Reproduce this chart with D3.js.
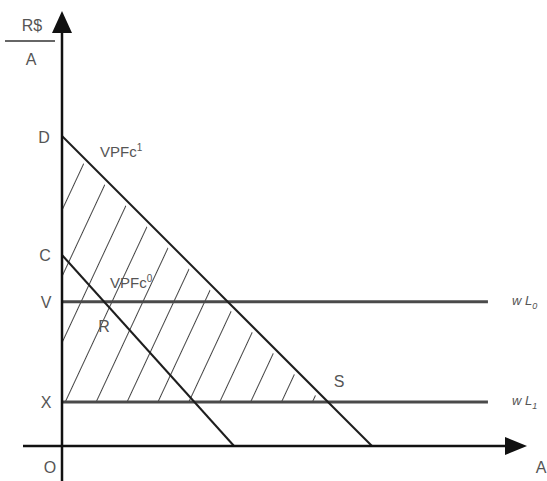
<!DOCTYPE html>
<html>
<head>
<meta charset="utf-8">
<script src="https://cdn.jsdelivr.net/npm/d3@7"></script>
<style>
  body { margin: 0; background: #fff; }
  svg { display: block; font-family: "Liberation Sans", Arial, sans-serif; }
</style>
</head>
<body>
<svg width="547" height="481"></svg>
<script>
// axis extents (units of the diagram)
const xDomain = [0, 150];
const yDomain = [0, 140];

// VPF curves: intercept on vertical axis (y0) and horizontal axis (x0)
const curveNames = ["VPFc1", "VPFc0"];
const curveY0 = [100, 61.6];
const curveX0 = [100, 55.5];

// wage levels
const levelNames = ["V", "X"];
const levelValues = [46.5, 14.2];
const levelLabels = ["0", "1"];
const levelEnd = 137.4;

const svg = d3.select("svg");

const x = d3.scaleLinear().domain(xDomain).range([62, 527]);
const y = d3.scaleLinear().domain(yDomain).range([446, 12]);

const ink = "#1e1e1e";
const textCol = "#555";

// hatch pattern
const defs = svg.append("defs");
const pat = defs.append("pattern")
  .attr("id", "hatch")
  .attr("patternUnits", "userSpaceOnUse")
  .attr("width", 28)
  .attr("height", 10)
  .attr("patternTransform", "translate(5,0) rotate(25)");
pat.append("line")
  .attr("x1", 0.5).attr("y1", 0)
  .attr("x2", 0.5).attr("y2", 10)
  .attr("stroke", "#444")
  .attr("stroke-width", 1);

// hatched area: between VPFc1 and lower wage level
const low = levelValues[1];
const topX = curveX0[0] * (1 - low / curveY0[0]);
svg.append("path")
  .attr("d", d3.line()([
    [x(0), y(curveY0[0]) + 6],
    [x(topX) - 6, y(low)],
    [x(0), y(low)]
  ]) + "Z")
  .attr("fill", "url(#hatch)");

// wage lines
levelValues.forEach((v, i) => {
  svg.append("line")
    .attr("x1", x(0)).attr("y1", y(v))
    .attr("x2", x(levelEnd)).attr("y2", y(v))
    .attr("stroke", "#4a4a4a")
    .attr("stroke-width", 3);
  svg.append("text")
    .attr("x", 46).attr("y", y(v) + 6)
    .attr("text-anchor", "middle")
    .attr("font-size", 16)
    .attr("fill", textCol)
    .text(levelNames[i]);
  const t = svg.append("text")
    .attr("x", 512).attr("y", y(v) + 3)
    .attr("font-size", 13)
    .attr("font-style", "italic")
    .attr("fill", textCol);
  t.append("tspan").text("w ");
  t.append("tspan").text("L");
  t.append("tspan").attr("font-size", 9).attr("dy", 4).text(levelLabels[i]);
});

// VPF curves
curveY0.forEach((v, i) => {
  svg.append("line")
    .attr("x1", x(0)).attr("y1", y(v))
    .attr("x2", x(curveX0[i])).attr("y2", y(0))
    .attr("stroke", ink)
    .attr("stroke-width", 2);
});

// axes
svg.append("line")
  .attr("x1", x(0)).attr("y1", 33)
  .attr("x2", x(0)).attr("y2", 481)
  .attr("stroke", "#111").attr("stroke-width", 2.5);
svg.append("path")
  .attr("d", `M${x(0)},11 L${x(0) - 10},33 L${x(0) + 10},33 Z`)
  .attr("fill", "#111");
svg.append("line")
  .attr("x1", 23).attr("y1", y(0))
  .attr("x2", 507).attr("y2", y(0))
  .attr("stroke", "#111").attr("stroke-width", 2.5);
svg.append("path")
  .attr("d", `M527,${y(0)} L505,${y(0) - 9} L505,${y(0) + 9} Z`)
  .attr("fill", "#111");

// labels
function label(tx, ty, s, size) {
  return svg.append("text")
    .attr("x", tx).attr("y", ty)
    .attr("text-anchor", "middle")
    .attr("font-size", size || 16)
    .attr("fill", textCol)
    .text(s);
}
label(32, 31, "R$");
svg.append("line")
  .attr("x1", 5).attr("y1", 41).attr("x2", 55).attr("y2", 41)
  .attr("stroke", "#666").attr("stroke-width", 2);
label(31, 65, "A");
label(44, y(curveY0[0]) + 7, "D");
label(45, y(curveY0[1]) + 6, "C");
label(50, 473, "O");
label(541, 473, "A");
label(104, 332, "R");
label(339, 387, "S");

const c1 = svg.append("text").attr("x", 100).attr("y", 157)
  .attr("font-size", 15).attr("fill", textCol);
c1.append("tspan").text("VPFc");
c1.append("tspan").attr("font-size", 10).attr("dy", -6).text("1");
const c0 = svg.append("text").attr("x", 110).attr("y", 288)
  .attr("font-size", 15).attr("fill", textCol);
c0.append("tspan").text("VPFc");
c0.append("tspan").attr("font-size", 10).attr("dy", -6).text("0");
</script>
</body>
</html>
